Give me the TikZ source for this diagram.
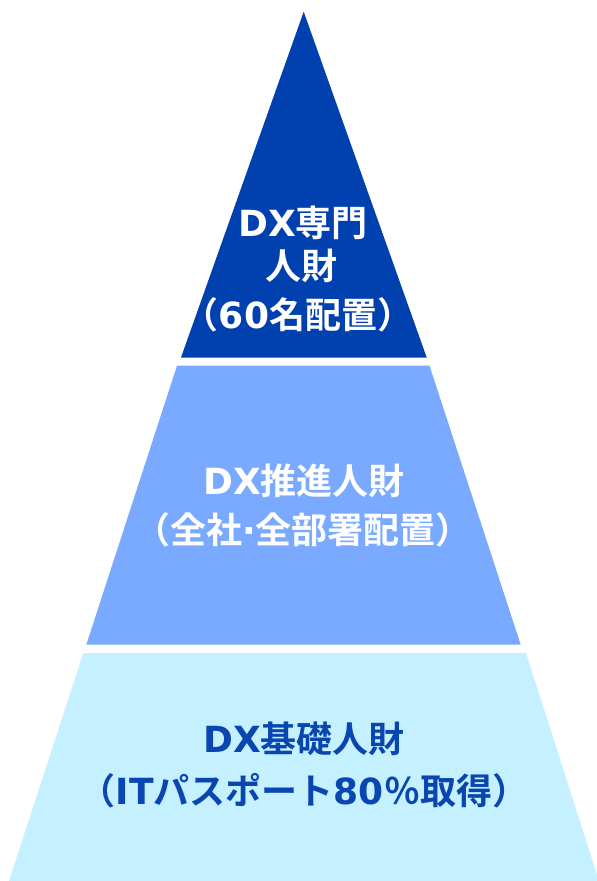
\documentclass[tikz,border=0pt]{standalone}
\usepackage{fontspec}
\newfontfamily\jpf{Noto Sans CJK JP}[BoldFont={* Bold}]
\newfontfamily\latf{DejaVu Sans}
\newcommand{\lx}[1]{{\latf\bfseries #1}}
\definecolor{topblue}{RGB}{0,65,175}
\definecolor{midblue}{RGB}{122,170,255}
\definecolor{lowblue}{RGB}{197,240,255}
\definecolor{lowtext}{RGB}{10,70,176}
\begin{document}
\begin{tikzpicture}[x=1pt,y=-1pt,
  tier/.style={draw=none},
  lbl/.style={anchor=base, inner sep=0pt, font=\jpf\bfseries\fontsize{36}{44}\selectfont}]
\clip (0,0) rectangle (597,881);
\fill[white] (0,0) rectangle (597,881);
% tiers
\fill[topblue] (303.7,11.7) -- (426.7,357.5) -- (181,357.5) -- cycle;
\fill[midblue] (177,365.7) -- (429.5,365.7) -- (520.7,644.7) -- (86.3,644.7) -- cycle;
\fill[lowblue] (83.3,653) -- (526,653) -- (599,881) -- (9,881) -- cycle;
% top labels
\node[lbl, text=white] (t1) at (303,236) {\lx{DX}専門};
\node[lbl, text=white] (t2) at (301,279) {人財};
\node[lbl, text=white] (t3) at (298,328) {（\lx{60}名配置）};
% middle labels
\node[lbl, text=white] (m1) at (304,494) {\lx{DX}推進人財};
\node[lbl, text=white] (m2) at (303,543) {（全社\lx{·}全部署配置）};
% bottom labels
\node[lbl, text=lowtext] (b1) at (304,752) {\lx{DX}基礎人財};
\node[lbl, text=lowtext] (b2) at (304,804) {（\lx{IT}パスポート\lx{80}％取得）};
\end{tikzpicture}
\end{document}
